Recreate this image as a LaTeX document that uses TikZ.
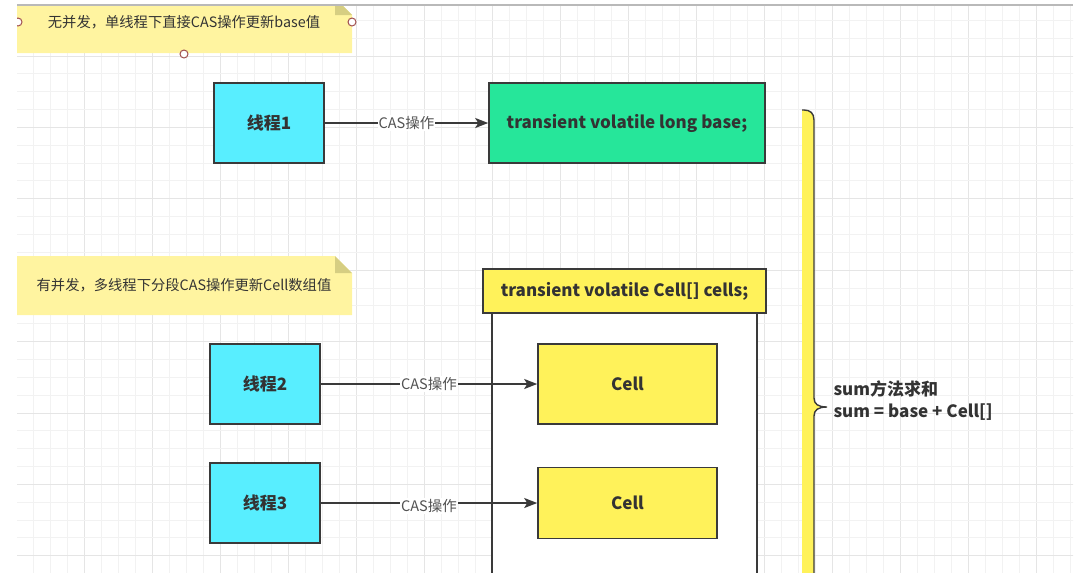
\documentclass[tikz,border=0pt]{standalone}
\usepackage{fontspec}
\setmainfont{Noto Sans CJK SC}
\usetikzlibrary{calc,arrows.meta}

\definecolor{threadcyan}{RGB}{88,238,255}
\definecolor{basegreen}{RGB}{38,230,154}
\definecolor{cellyellow}{RGB}{255,242,90}
\definecolor{noteyellow}{RGB}{255,244,160}
\definecolor{notefold}{RGB}{214,206,130}
\definecolor{edge}{RGB}{58,58,58}
\definecolor{ink}{RGB}{51,51,51}
\definecolor{gridminor}{RGB}{242,242,242}
\definecolor{gridmajor}{RGB}{229,229,229}
\definecolor{handle}{RGB}{160,80,78}

\tikzset{
    box/.style={draw=edge, line width=1.6pt, text=ink, font=\fontsize{17}{19}\selectfont\bfseries, inner sep=0pt},
    threadbox/.style={box, fill=threadcyan, minimum width=110pt, minimum height=80pt},
    cellbox/.style={box, fill=cellyellow, minimum width=179pt},
    arr/.style={draw=edge, line width=1.6pt, -{Stealth[length=13pt,width=10pt,inset=3pt]}},
    lbl/.style={fill=white, text=ink!85, font=\fontsize{14.5}{16}\selectfont, inner sep=1pt},
    notetext/.style={text=ink, font=\fontsize{14.3}{16}\selectfont}
}

\begin{document}
\begin{tikzpicture}[x=1pt, y=-1pt]
    \useasboundingbox (0,0) rectangle (1078,579);

    \begin{scope}
        \clip (17,5) rectangle (1073,572);

        % grid
        \foreach \i in {0,...,62}
            {
                \pgfmathsetmacro{\gx}{16+17*\i}
                \pgfmathtruncatemacro{\gm}{mod(\i,4)}
                \ifnum\gm=0 \draw [gridmajor, line width=1pt] (\gx,0) -- (\gx,579);
                \else \draw [gridminor, line width=1pt] (\gx,0) -- (\gx,579); \fi
            }
        \foreach \k in {-2,...,29}
            {
                \pgfmathsetmacro{\gy}{56+17.85*\k}
                \pgfmathtruncatemacro{\gm}{mod(\k+8,4)}
                \ifnum\gm=0 \draw [gridmajor, line width=1pt] (0,\gy) -- (1078,\gy);
                \else \draw [gridminor, line width=1pt] (0,\gy) -- (1078,\gy); \fi
            }

        % notes
        \fill [noteyellow] (0,-2) -- (335,-2) -- (352,15) -- (352,53) -- (0,53) -- cycle;
        \fill [notefold] (335,-2) -- (335,15) -- (352,15) -- cycle;
        \node (note1) at (184,22) [notetext] {无并发，单线程下直接CAS操作更新base值};

        \fill [noteyellow] (0,256) -- (335,256) -- (352,273) -- (352,315) -- (0,315) -- cycle;
        \fill [notefold] (335,256) -- (335,273) -- (352,273) -- cycle;
        \node (note2) at (184,285) [notetext] {有并发，多线程下分段CAS操作更新Cell数组值};

        \foreach \p in {(18,22),(352,22),(184,54)}
            \draw [handle, fill=white, line width=1pt] \p circle (4);

        % cells container
        \fill [white] (492,313) rectangle (757,580);
        \draw [edge, line width=1.6pt] (492,313) -- (492,580);
        \draw [edge, line width=1.6pt] (757,313) -- (757,580);
        \node (cells) at (624.5,291) [box, fill=cellyellow, minimum width=283pt, minimum height=44pt]
            {transient volatile Cell[] cells;};

        % brace
        \fill [cellyellow] (802,110) -- (804,110) .. controls (810,110) and (814,113) .. (814,120)
            -- (814,398) .. controls (814,404) and (818,407) .. (827,407)
            .. controls (818,407) and (814,410) .. (814,416) -- (814,580) -- (802,580) -- cycle;
        \draw [edge, line width=1.4pt] (802,110) -- (804,110) .. controls (810,110) and (814,113) .. (814,120)
            -- (814,398) .. controls (814,404) and (818,407) .. (827,407)
            .. controls (818,407) and (814,410) .. (814,416) -- (814,580);
    \end{scope}

    \draw [gray!55, line width=1.5pt] (17,5) -- (1073,5);

    \node (t1) at (269,123) [threadbox] {线程1};
    \node (base) at (627,123) [box, fill=basegreen, minimum width=276pt, minimum height=80pt]
        {transient volatile long base;};
    \node (t2) at (265,384) [threadbox] {线程2};
    \node (t3) at (265,503) [threadbox] {线程3};
    \node (c1) at (627.5,384) [cellbox, minimum height=80pt] {Cell};
    \node (c2) at (627.5,503) [cellbox, minimum height=71pt] {Cell};

    \draw [arr] (t1) -- node [lbl] {CAS操作} (base);
    \draw [arr] (t2) -- node [lbl] {CAS操作} (c1);
    \draw [arr] (t3) -- node [lbl, yshift=-3pt] {CAS操作} (c2);

    \node (sum) at (830,401) [anchor=west, align=left, text=ink,
        font=\fontsize{17}{22}\selectfont\bfseries] {sum方法求和\\sum = base + Cell[]};

\end{tikzpicture}
\end{document}
